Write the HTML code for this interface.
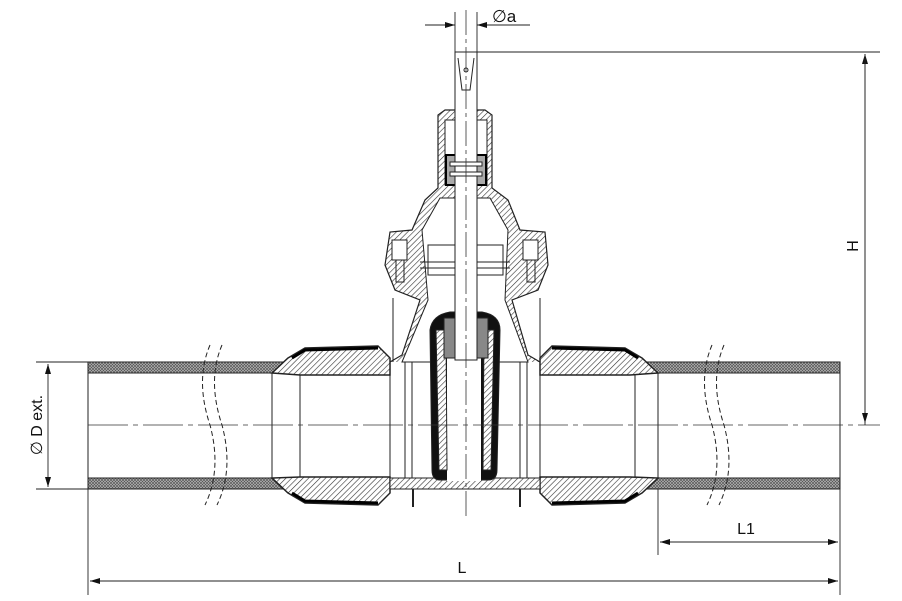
<!DOCTYPE html>
<html><head><meta charset="utf-8"><style>
html,body{margin:0;padding:0;background:#fff;width:902px;height:601px;overflow:hidden}
svg{display:block}
text{font-family:"Liberation Sans",sans-serif;fill:#111}
</style></head><body>
<svg width="902" height="601" viewBox="0 0 902 601" xmlns="http://www.w3.org/2000/svg">
<defs>
<pattern id="xh" width="3" height="3" patternUnits="userSpaceOnUse">
<rect width="3" height="3" fill="#bbb"/><path d="M0 0L3 3M3 0L0 3" stroke="#555" stroke-width="0.7"/>
</pattern>
<pattern id="hatch" width="4" height="4" patternUnits="userSpaceOnUse" patternTransform="rotate(45)">
<rect width="4" height="4" fill="#fff"/><line x1="0" y1="0" x2="0" y2="4" stroke="#333" stroke-width="1.2"/>
</pattern>
<marker id="ar" markerWidth="10" markerHeight="6" refX="10" refY="3" orient="auto" markerUnits="userSpaceOnUse"><path d="M0 0L10 3L0 6z" fill="#111"/></marker>
</defs>
<g stroke="#222" fill="none" stroke-width="1">
<!-- pipes -->
<rect x="88" y="362" width="200" height="11" fill="url(#xh)"/>
<rect x="88" y="478" width="200" height="11" fill="url(#xh)"/>
<rect x="640" y="362" width="200" height="11" fill="url(#xh)"/>
<rect x="640" y="478" width="200" height="11" fill="url(#xh)"/>
<line x1="88" y1="362" x2="88" y2="489"/><line x1="840" y1="362" x2="840" y2="489"/>
<line x1="272" y1="373" x2="272" y2="478"/><line x1="300" y1="373" x2="300" y2="478"/>
<line x1="658" y1="373" x2="658" y2="478"/><line x1="635" y1="373" x2="635" y2="478"/>
<line x1="390" y1="362" x2="390" y2="489"/><line x1="405" y1="362" x2="405" y2="489"/><line x1="412" y1="362" x2="412" y2="489"/>
<line x1="540" y1="362" x2="540" y2="489"/><line x1="527" y1="362" x2="527" y2="489"/><line x1="520" y1="362" x2="520" y2="489"/>
<!-- fittings -->
<path d="M288 358L305 348L378 346L390 358L390 375L300 375L272 373Z" fill="url(#hatch)" stroke-width="1.5"/>
<path d="M288 493L305 503L378 505L390 493L390 477L300 477L272 478Z" fill="url(#hatch)" stroke-width="1.5"/>
<path d="M642 358L625 348L552 346L540 358L540 375L630 375L658 373Z" fill="url(#hatch)" stroke-width="1.5"/>
<path d="M642 493L625 503L552 505L540 493L540 477L630 477L658 478Z" fill="url(#hatch)" stroke-width="1.5"/>
<path d="M292 358L305 350L378 348" stroke="#000" stroke-width="3"/>
<path d="M292 493L305 501L378 503" stroke="#000" stroke-width="3"/>
<path d="M638 358L625 350L552 348" stroke="#000" stroke-width="3"/>
<path d="M638 493L625 501L552 503" stroke="#000" stroke-width="3"/>
<!-- body bottom -->
<rect x="390" y="478" width="150" height="11" fill="url(#hatch)"/>
<path d="M413 489v18M520 489v18" stroke-width="2"/>
<!-- body neck and bonnet -->
<path d="M390 362L402 355L420 300L395 290L385 265L390 232L412 230L425 200L438 188L438 115L445 110L485 110L492 115L492 188L508 200L520 230L545 232L548 265L538 290L512 300L528 355L540 362" fill="url(#hatch)" stroke-width="1.2"/>
<path d="M402 362L428 300L422 230L440 198L490 198L508 230L505 300L528 362Z" fill="#fff"/>
<line x1="393" y1="298" x2="393" y2="362"/><line x1="540" y1="298" x2="540" y2="362"/>
<path d="M445 120L445 185L487 185L487 120Z" fill="#fff"/>
<rect x="446" y="155" width="40" height="30" fill="#aaa" stroke="#000" stroke-width="2"/>
<rect x="428" y="245" width="75" height="30" fill="#fff"/>
<line x1="420" y1="262" x2="510" y2="262"/><line x1="420" y1="268" x2="510" y2="268"/>
<rect x="392" y="240" width="15" height="20" fill="#fff"/><rect x="523" y="240" width="15" height="20" fill="#fff"/>
<path d="M396 260v22h8v-22M527 260v22h8v-22"/>
<!-- gate -->
<path d="M430 330Q432 315 450 312L482 312Q500 315 500 330L497 470Q497 480 488 480L440 480Q432 480 432 470Z" fill="#111"/>
<rect x="447" y="350" width="34" height="131" fill="#fff" stroke="none"/>
<path d="M436 330L446 330L447 470L439 470Z" fill="url(#hatch)"/>
<path d="M484 330L494 330L491 470L483 470Z" fill="url(#hatch)"/>
<rect x="444" y="318" width="44" height="40" fill="#888"/>
<rect x="455" y="318" width="22" height="42" fill="#fff"/>
<!-- stem -->
<rect x="455" y="52" width="22" height="308" fill="#fff"/>
<path d="M458 58L462 90L470 90L474 58" />
<circle cx="466" cy="70" r="2"/>
<rect x="450" y="162" width="32" height="4" fill="#fff"/><rect x="450" y="172" width="32" height="4" fill="#fff"/>
<!-- break marks -->
<path d="M210 345Q195 380 210 425Q222 470 205 505" stroke-dasharray="5,3"/>
<path d="M222 345Q207 380 222 425Q234 470 217 505" stroke-dasharray="5,3"/>
<path d="M712 345Q697 380 712 425Q724 470 707 505" stroke-dasharray="5,3"/>
<path d="M724 345Q709 380 724 425Q736 470 719 505" stroke-dasharray="5,3"/>
</g>
<!-- centerlines -->
<g stroke="#333" stroke-width="0.8" fill="none">
<line x1="88" y1="425" x2="880" y2="425" stroke-dasharray="40,5,5,5"/>
<line x1="466" y1="10" x2="466" y2="520" stroke-dasharray="25,4,4,4"/>
</g>
<!-- dimensions -->
<g stroke="#222" stroke-width="0.9" fill="none">
<line x1="455" y1="12" x2="455" y2="52"/><line x1="477" y1="12" x2="477" y2="52"/>
<line x1="425" y1="25" x2="455" y2="25" marker-end="url(#ar)"/>
<line x1="530" y1="25" x2="477" y2="25" marker-end="url(#ar)"/>
<line x1="477" y1="52" x2="880" y2="52"/>
<line x1="865" y1="425" x2="865" y2="54" marker-end="url(#ar)"/>
<line x1="865" y1="54" x2="865" y2="423" marker-end="url(#ar)"/>
<line x1="36" y1="362" x2="88" y2="362"/><line x1="36" y1="489" x2="88" y2="489"/>
<line x1="48" y1="425" x2="48" y2="364" marker-end="url(#ar)"/>
<line x1="48" y1="425" x2="48" y2="487" marker-end="url(#ar)"/>
<line x1="88" y1="489" x2="88" y2="595"/><line x1="840" y1="489" x2="840" y2="595"/>
<line x1="658" y1="489" x2="658" y2="555"/>
<line x1="750" y1="542" x2="660" y2="542" marker-end="url(#ar)"/>
<line x1="750" y1="542" x2="838" y2="542" marker-end="url(#ar)"/>
<line x1="460" y1="581" x2="90" y2="581" marker-end="url(#ar)"/>
<line x1="460" y1="581" x2="838" y2="581" marker-end="url(#ar)"/>
</g>
<text x="492" y="22" font-size="17">∅a</text>
<text x="858" y="246" font-size="16" transform="rotate(-90 858 246)" text-anchor="middle">H</text>
<text x="42" y="425" font-size="16" transform="rotate(-90 42 425)" text-anchor="middle">∅ D ext.</text>
<text x="746" y="534" font-size="16" text-anchor="middle">L1</text>
<text x="462" y="573" font-size="16" text-anchor="middle">L</text>
</svg>
</body></html>
